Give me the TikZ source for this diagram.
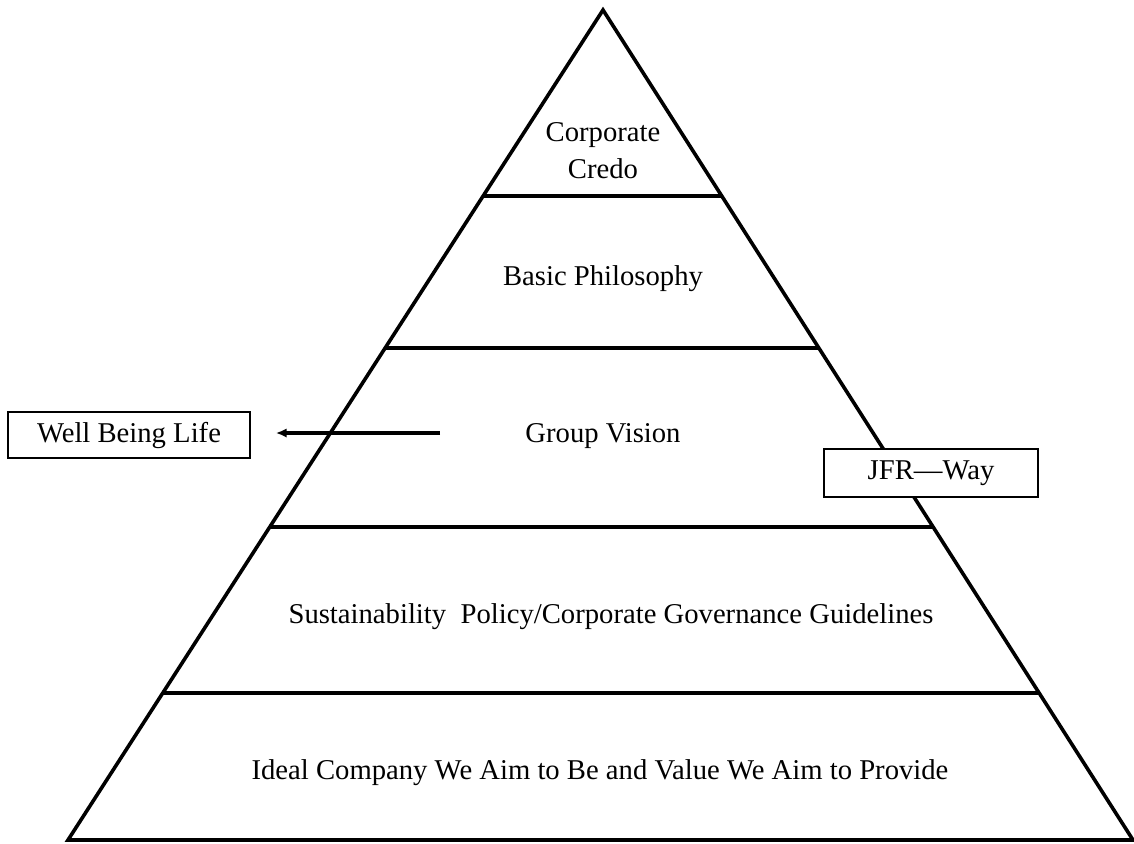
\documentclass[tikz,border=0pt]{standalone}
\usepackage{fontspec}
\setmainfont{Liberation Serif}
\usetikzlibrary{arrows.meta}

\tikzset{
  tier/.style={black, line width=2.7pt},
  side box/.style={draw=black, line width=1.3pt, fill=white, inner sep=0pt},
}

\begin{document}
\begin{tikzpicture}[x=0.75pt, y=-0.75pt, font=\fontsize{21.5}{27.75}\selectfont]
            \useasboundingbox (0,0) rectangle (1134,843);
            % outline of the pyramid
            \coordinate (apex) at (603,10);
            \coordinate (base left) at (68,840);
            \coordinate (base right) at (1133,840);
            \draw[tier, line join=miter] (apex) -- (base left) -- (base right) -- cycle;
            % levels
            \draw[tier] (483.3,196) -- (721.6,196);
            \draw[tier] (385.4,348) -- (818.6,348);
            \draw[tier] (270.2,527) -- (932.7,527);
            \draw[tier] (163.3,693) -- (1038.6,693);
            \node (credo) at (603,151) [align=center]{Corporate\\Credo};
            \node (philosophy) at (603,279) {Basic Philosophy};
            \node (vision) at (603,436) {Group Vision};
            \node (policy) at (611,617) {Sustainability\ \ Policy/Corporate Governance Guidelines};
            \node (ideal) at (600,773) {Ideal Company We Aim to Be and Value We Aim to Provide};
            % boxes at the sides
            \node (wellbeing) at (129,435) [side box, minimum width=181.5pt, minimum height=34.5pt]{Well Being Life};
            \node (jfrway) at (931,473) [side box, minimum width=160.5pt, minimum height=36pt]{JFR---Way};
            \coordinate (arrow start) at (440,433);
            \draw[tier, -{Latex[length=8pt, width=7pt]}, shorten >=18.75pt] (arrow start) -- (arrow start -| wellbeing.east);
        \end{tikzpicture}
\end{document}
